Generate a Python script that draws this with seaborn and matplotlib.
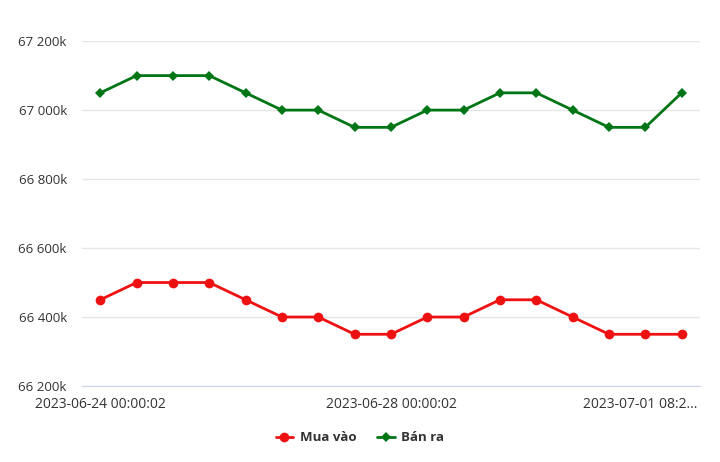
import pandas as pd
import seaborn as sns
import matplotlib.pyplot as plt
import matplotlib.transforms as mtransforms
from matplotlib.ticker import FuncFormatter

# Gold price data (thousand VND)
times = ['2023-06-24 00:00:02', '2023-06-24 12:00:00', '2023-06-25 00:00:00', '2023-06-25 12:00:00',
         '2023-06-26 00:00:00', '2023-06-26 12:00:00', '2023-06-27 00:00:00', '2023-06-27 12:00:00',
         '2023-06-28 00:00:02', '2023-06-28 12:00:00', '2023-06-29 00:00:00', '2023-06-29 12:00:00',
         '2023-06-30 00:00:00', '2023-06-30 12:00:00', '2023-07-01 00:00:00', '2023-07-01 04:00:00',
         '2023-07-01 08:2...']
buy = [66450, 66500, 66500, 66500, 66450, 66400, 66400, 66350, 66350,
       66400, 66400, 66450, 66450, 66400, 66350, 66350, 66350]
sell = [67050, 67100, 67100, 67100, 67050, 67000, 67000, 66950, 66950,
        67000, 67000, 67050, 67050, 67000, 66950, 66950, 67050]
shown_ticks = [0, 8, 16]

df = pd.DataFrame({'idx': list(range(len(times))) * 2,
                   'price': buy + sell,
                   'series': ['Mua vào'] * len(buy) + ['Bán ra'] * len(sell)})

sns.set_style('white')
plt.rcParams['font.family'] = ['Open Sans', 'DejaVu Sans']

fig = plt.figure(figsize=(7.2, 4.62), dpi=100)
ax = fig.add_axes([0.114, 0.1645, 0.858, 0.7465])

sns.lineplot(data=df, x='idx', y='price', hue='series', style='series',
             palette={'Mua vào': '#ee1111', 'Bán ra': '#007515'},
             markers={'Mua vào': 'o', 'Bán ra': 'D'}, dashes=False,
             markersize=7, linewidth=2, markeredgewidth=0, ax=ax)
for line in ax.lines:
    if line.get_marker() == 'D':
        line.set_markersize(5.5)

ax.set_xlim(-0.5, 16.5)
ax.set_ylim(66200, 67200)
ax.set_yticks(range(66200, 67201, 200))
ax.yaxis.set_major_formatter(FuncFormatter(lambda v, p: f'{int(v):,}'.replace(',', ' ') + 'k'))
ax.set_xticks(shown_ticks)
ax.set_xticklabels([times[i] for i in shown_ticks])
ax.grid(axis='y', color='#e6e6e6', linewidth=1)
ax.set_axisbelow(True)
for s in ['top', 'right', 'left']:
    ax.spines[s].set_visible(False)
ax.spines['bottom'].set_color('#ccd6eb')
ax.tick_params(axis='both', length=0, colors='#333333')
ax.tick_params(axis='y', labelsize=9.5, pad=11)
ax.tick_params(axis='x', labelsize=10, pad=8)
ax.set_xlabel('')
ax.set_ylabel('')

# shift last label left so it fits inside the chart
last = ax.get_xticklabels()[-1]
last.set_transform(last.get_transform() + mtransforms.ScaledTranslation(-0.41, 0, fig.dpi_scale_trans))

handles, labels = ax.get_legend_handles_labels()
leg = ax.legend(handles, labels, loc='center', bbox_to_anchor=(0.5, 0.052), bbox_transform=fig.transFigure,
                ncol=2, frameon=False, handlelength=1.3, handletextpad=0.5, columnspacing=1.6,
                prop={'weight': 'bold', 'size': 9.5})
for t in leg.get_texts():
    t.set_color('#333333')

plt.savefig('out.png', dpi=100)
